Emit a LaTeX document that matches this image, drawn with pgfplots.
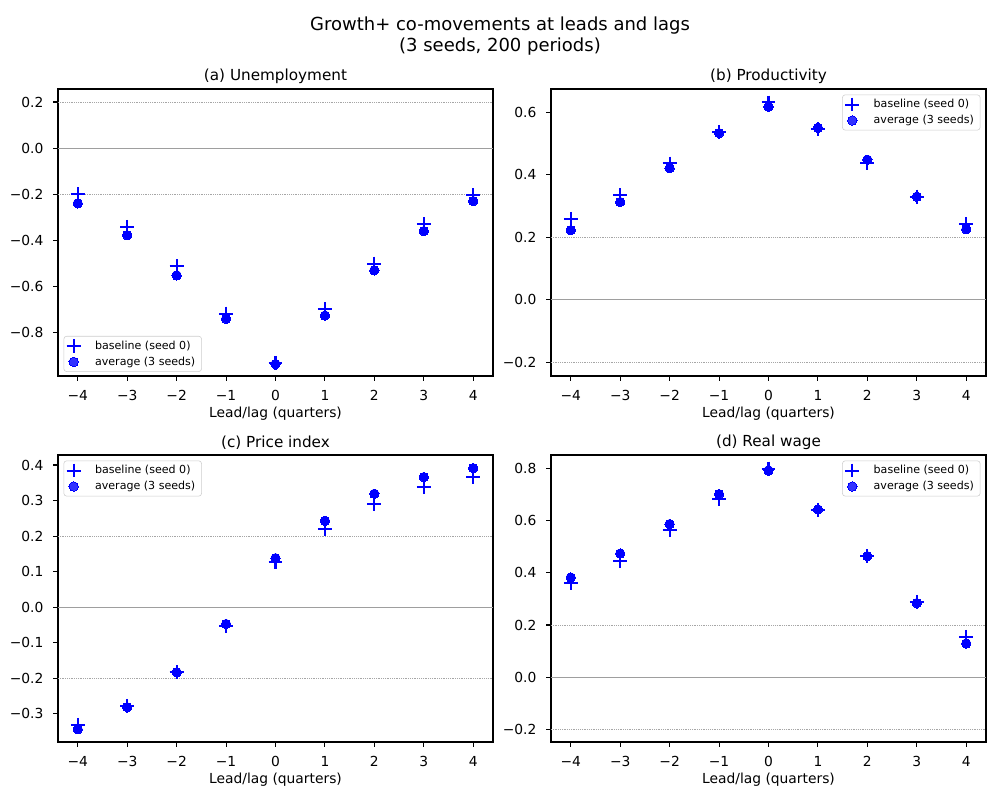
\documentclass[border=0pt]{standalone}
\usepackage{fontspec}
\setmainfont{DejaVu Sans}
\usepackage{pgfplots}
\pgfplotsset{compat=1.18}

\pgfplotsset{
  panel/.style={
    scale only axis, width=313.2bp, height=206.64bp,
    xmin=-4.4, xmax=4.4,
    xtick={-4,-3,-2,-1,0,1,2,3,4},
    xticklabels={−4,−3,−2,−1,0,1,2,3,4},
    xtick pos=bottom, ytick pos=left,
    tick align=outside,
    major tick length=3.5bp,
    tick style={black, line width=0.8bp},
    axis line style={line width=0.8bp},
    tick label style={font=\fontsize{10}{12}\selectfont, text=black},
    xticklabel style={yshift=-3.5bp},
    yticklabel style={xshift=-3.5bp},
    xlabel={Lead/lag (quarters)},
    xlabel style={font=\fontsize{10}{12}\selectfont, text=black, yshift=2.5bp},
    title style={font=\fontsize{11}{13}\selectfont, text=black, yshift=-5.5bp},
    legend style={font=\fontsize{8}{9.6}\selectfont, draw=black!20, rounded corners=2bp,
      fill=white, fill opacity=0.8, text opacity=1, inner xsep=2.5bp, inner ysep=2bp,
      nodes={inner xsep=2bp, inner ysep=1.2bp},
      /tikz/every odd column/.append style={column sep=8.8bp},
      row sep=1.5bp},
    legend cell align=left,
  },
  limg/.style={legend image code/.code={%
      \path[draw=none, fill=none] (0bp,-2.5bp) rectangle (9.2bp,2.5bp);
      \draw[overlay, mark repeat=2, mark phase=2, ##1] plot coordinates {(0bp,0bp) (4.6bp,0bp) (9.2bp,0bp)};}},
  base/.style={only marks, mark=+, color=blue, mark size=5bp, mark options={line width=1.45bp}, limg},
  avg/.style={only marks, mark=*, color=blue, mark size=3.4bp, mark options={draw=blue, fill=blue, line width=0pt}, limg},
}
\newcommand\reflines{%
  \addplot[forget plot, black!38, line width=0.7bp] coordinates {(-4.4,0) (4.4,0)};
  \addplot[forget plot, black!35, line width=0.5bp, dash pattern=on 0.5bp off 0.8bp] coordinates {(-4.4,0.2) (4.4,0.2)};
  \addplot[forget plot, black!35, line width=0.5bp, dash pattern=on 0.5bp off 0.8bp] coordinates {(-4.4,-0.2) (4.4,-0.2)};
}

\begin{document}
\begin{tikzpicture}
\useasboundingbox (0,0) rectangle (720bp,-576bp);
\node[align=center, font=\fontsize{13}{15.2}\selectfont, text=black] at (360bp,-26bp)
  {Growth+ co-movements at leads and lags\\(3 seeds, 200 periods)};

% (a) Unemployment
\begin{axis}[panel, at={(41.76bp,-64.08bp)}, anchor=north west,
  title={(a) Unemployment},
  ymin=-0.987, ymax=0.2565,
  ytick={-0.8,-0.6,-0.4,-0.2,0,0.2},
  yticklabels={−0.8,−0.6,−0.4,−0.2,0.0,0.2},
  legend style={at={(0,0)}, anchor=south west, xshift=4bp, yshift=3bp}]
\reflines
\addplot[base] coordinates {(-4,-0.200) (-3,-0.341) (-2,-0.512) (-1,-0.717) (0,-0.930) (1,-0.697) (2,-0.500) (3,-0.330) (4,-0.203)};
\addlegendentry{baseline (seed 0)}
\addplot[avg] coordinates {(-4,-0.239) (-3,-0.377) (-2,-0.551) (-1,-0.739) (0,-0.935) (1,-0.725) (2,-0.529) (3,-0.359) (4,-0.229)};
\addlegendentry{average (3 seeds)}
\end{axis}

% (b) Productivity
\begin{axis}[panel, at={(396.72bp,-64.08bp)}, anchor=north west,
  title={(b) Productivity},
  ymin=-0.243, ymax=0.674,
  ytick={-0.2,0,0.2,0.4,0.6},
  yticklabels={−0.2,0.0,0.2,0.4,0.6},
  legend style={at={(1,1)}, anchor=north east, xshift=-4bp, yshift=-4bp}]
\reflines
\addplot[base] coordinates {(-4,0.259) (-3,0.335) (-2,0.436) (-1,0.537) (0,0.631) (1,0.545) (2,0.436) (3,0.330) (4,0.242)};
\addlegendentry{baseline (seed 0)}
\addplot[avg] coordinates {(-4,0.223) (-3,0.313) (-2,0.421) (-1,0.533) (0,0.617) (1,0.550) (2,0.448) (3,0.330) (4,0.226)};
\addlegendentry{average (3 seeds)}
\end{axis}

% (c) Price index
\begin{axis}[panel, at={(41.76bp,-327.6bp)}, anchor=north west,
  title={(c) Price index},
  ymin=-0.379, ymax=0.428,
  ytick={-0.3,-0.2,-0.1,0,0.1,0.2,0.3,0.4},
  yticklabels={−0.3,−0.2,−0.1,0.0,0.1,0.2,0.3,0.4},
  legend style={at={(0,1)}, anchor=north west, xshift=4bp, yshift=-4bp}]
\reflines
\addplot[base] coordinates {(-4,-0.331) (-3,-0.277) (-2,-0.183) (-1,-0.052) (0,0.126) (1,0.221) (2,0.290) (3,0.338) (4,0.366)};
\addlegendentry{baseline (seed 0)}
\addplot[avg] coordinates {(-4,-0.343) (-3,-0.281) (-2,-0.183) (-1,-0.047) (0,0.138) (1,0.243) (2,0.319) (3,0.366) (4,0.391)};
\addlegendentry{average (3 seeds)}
\end{axis}

% (d) Real wage
\begin{axis}[panel, at={(396.72bp,-327.6bp)}, anchor=north west,
  title={(d) Real wage},
  ymin=-0.249, ymax=0.852,
  ytick={-0.2,0,0.2,0.4,0.6,0.8},
  yticklabels={−0.2,0.0,0.2,0.4,0.6,0.8},
  legend style={at={(1,1)}, anchor=north east, xshift=-4bp, yshift=-4bp}]
\reflines
\addplot[base] coordinates {(-4,0.362) (-3,0.445) (-2,0.565) (-1,0.684) (0,0.800) (1,0.642) (2,0.463) (3,0.289) (4,0.155)};
\addlegendentry{baseline (seed 0)}
\addplot[avg] coordinates {(-4,0.382) (-3,0.474) (-2,0.587) (-1,0.702) (0,0.793) (1,0.643) (2,0.464) (3,0.284) (4,0.129)};
\addlegendentry{average (3 seeds)}
\end{axis}
\end{tikzpicture}
\end{document}
